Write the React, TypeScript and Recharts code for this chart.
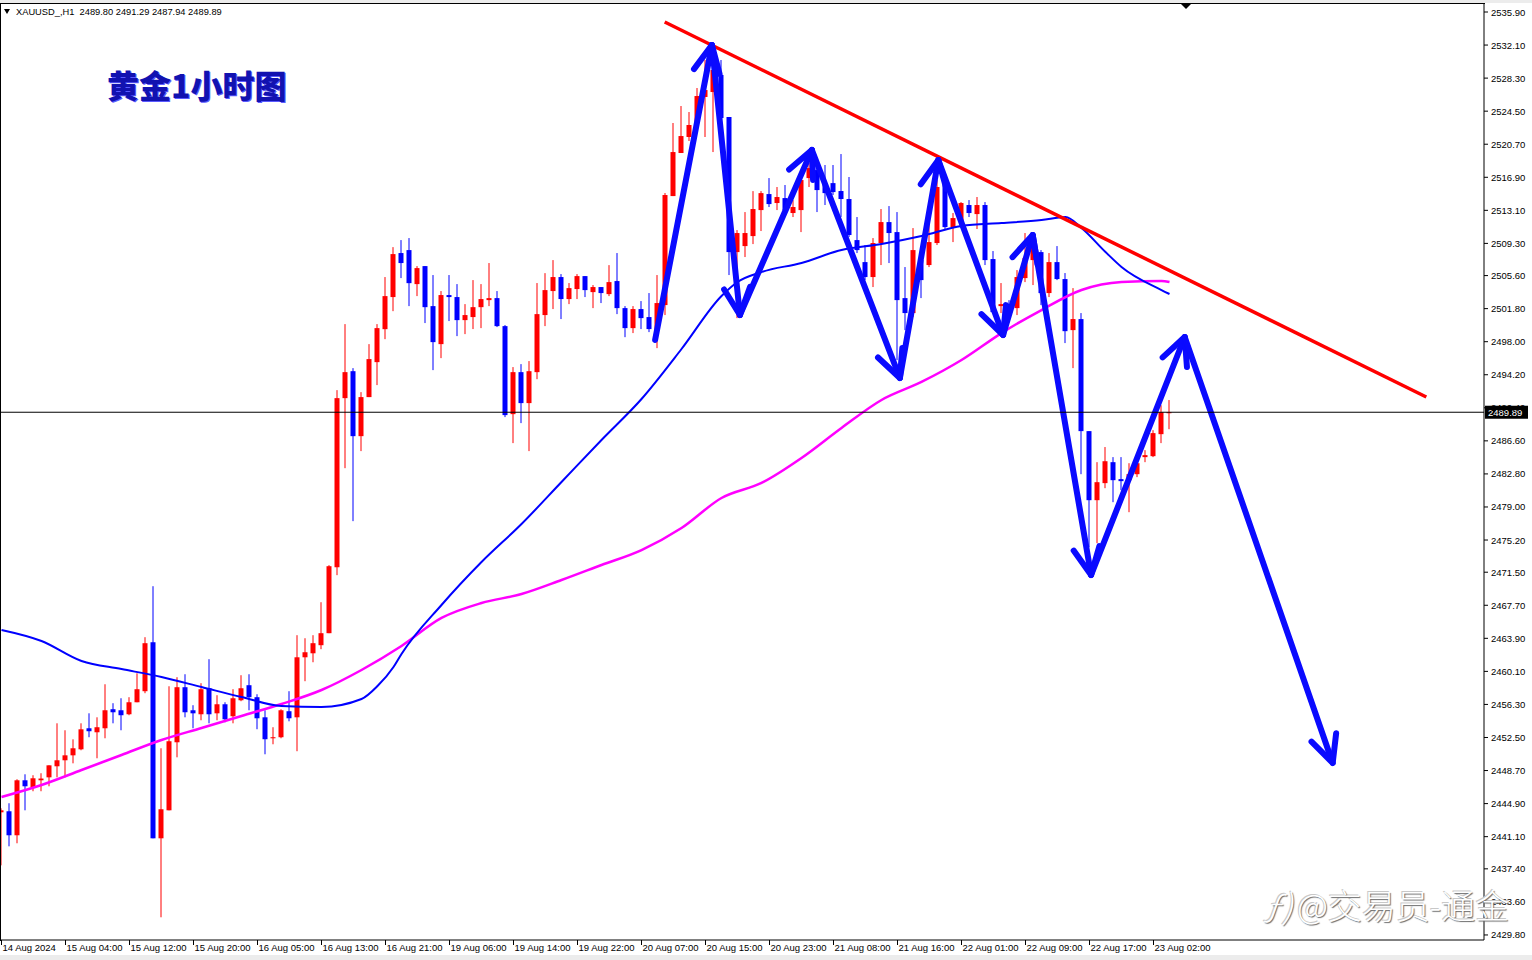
import React from 'react';
import { ComposedChart, Bar, Line, XAxis, YAxis, ReferenceLine } from 'recharts';

const opens = [2443.9,2444.02,2441.26,2447.58,2446.78,2447.58,2447.92,2449.19,2449.88,2450.45,2451.14,2453.56,2453.10,2453.56,2455.75,2455.63,2455.17,2456.55,2457.82,2463.45,2440.91,2444.13,2451.95,2458.28,2455.63,2455.17,2458.16,2455.28,2456.32,2454.94,2456.78,2458.51,2457.13,2454.82,2452.41,2452.53,2455.52,2454.82,2461.72,2462.18,2463.11,2464.49,2472.07,2491.51,2494.61,2487.14,2491.63,2495.65,2499.44,2503.13,2508.19,2508.53,2504.62,2506.69,2502.09,2497.72,2503.36,2503.13,2500.48,2500.83,2501.97,2502.78,2503.01,2499.79,2489.67,2494.50,2490.94,2494.50,2501.06,2503.82,2505.43,2502.90,2504.05,2505.54,2503.70,2504.28,2503.47,2504.97,2501.86,2499.56,2501.75,2500.83,2499.33,2502.21,2514.74,2519.69,2521.53,2523.14,2526.13,2526.70,2528.66,2523.83,2508.30,2508.99,2510.14,2513.13,2514.97,2513.94,2514.51,2512.79,2513.13,2516.81,2517.73,2516.23,2516.23,2515.32,2514.40,2509.68,2507.15,2505.43,2509.34,2511.75,2510.60,2503.01,2501.29,2507.38,2506.81,2509.34,2516.58,2511.17,2511.75,2513.71,2512.67,2513.71,2507.50,2502.09,2502.32,2501.86,2505.31,2507.38,2508.30,2503.59,2507.15,2505.20,2499.33,2500.60,2487.72,2479.78,2481.74,2484.15,2482.20,2482.08,2482.77,2484.73,2484.84,2487.37,2489.80];
const highs = [2444.36,2444.94,2447.70,2448.27,2448.16,2448.39,2449.30,2454.13,2453.33,2452.29,2454.13,2455.28,2454.82,2458.62,2456.44,2457.01,2457.13,2459.88,2464.03,2469.89,2451.26,2458.39,2459.43,2459.77,2456.21,2458.74,2461.50,2457.36,2456.55,2458.05,2459.66,2459.77,2457.47,2455.63,2453.68,2455.75,2457.82,2464.26,2463.91,2464.26,2468.05,2472.31,2492.43,2500.02,2494.96,2492.20,2497.72,2500.02,2505.43,2508.87,2509.68,2509.91,2506.69,2506.69,2505.66,2503.82,2505.66,2504.62,2502.32,2505.08,2504.62,2507.04,2503.82,2499.91,2495.08,2495.42,2495.77,2504.74,2505.88,2507.38,2505.77,2504.74,2505.77,2505.54,2504.51,2504.28,2506.80,2508.19,2502.09,2502.09,2502.67,2503.59,2505.66,2515.09,2523.14,2525.09,2524.40,2527.16,2530.38,2530.96,2530.38,2523.83,2510.83,2512.90,2515.31,2515.31,2516.81,2515.78,2516.01,2514.28,2517.16,2518.54,2518.54,2518.31,2518.31,2519.57,2516.93,2512.33,2509.11,2509.91,2513.25,2513.59,2512.90,2506.58,2511.06,2508.53,2511.63,2516.58,2516.81,2512.79,2514.05,2514.28,2514.63,2514.05,2508.42,2504.74,2502.78,2506.23,2510.49,2509.68,2508.53,2508.19,2508.99,2505.89,2504.16,2501.29,2487.72,2484.15,2485.89,2484.73,2484.73,2484.03,2485.19,2485.53,2487.83,2490.70,2491.29];
const lows = [2437.80,2439.99,2440.34,2444.13,2446.32,2446.32,2446.89,2447.92,2447.92,2449.53,2451.03,2452.53,2450.11,2452.41,2454.13,2453.33,2455.06,2456.55,2457.59,2440.91,2431.83,2444.13,2450.22,2454.82,2453.56,2454.48,2454.13,2454.48,2454.25,2454.13,2456.67,2455.63,2453.45,2450.57,2451.72,2452.41,2454.36,2450.92,2458.97,2461.15,2462.65,2464.49,2471.16,2483.46,2477.37,2485.42,2491.63,2493.01,2498.29,2501.51,2505.31,2502.09,2503.24,2500.14,2494.73,2496.11,2500.37,2498.64,2498.87,2499.45,2499.56,2502.09,2499.68,2489.33,2486.34,2488.64,2485.42,2493.69,2499.79,2501.75,2500.60,2502.32,2502.90,2503.13,2501.86,2502.44,2503.24,2501.17,2498.52,2498.99,2499.45,2499.10,2497.26,2501.06,2514.74,2519.69,2521.07,2522.68,2521.53,2519.80,2520.03,2505.66,2500.71,2507.73,2509.22,2510.72,2513.48,2513.13,2512.79,2512.33,2510.60,2515.78,2512.90,2513.71,2514.86,2512.33,2510.03,2508.19,2505.08,2504.28,2506.81,2507.04,2495.88,2499.33,2500.83,2503.01,2506.58,2509.11,2510.83,2509.45,2511.40,2512.33,2510.95,2506.81,2501.29,2501.29,2501.06,2501.06,2504.85,2504.51,2502.21,2503.13,2505.08,2497.84,2494.96,2482.77,2474.38,2474.84,2481.16,2479.55,2480.93,2478.40,2482.43,2484.15,2484.73,2486.34,2487.94];
const closes = [2444.13,2441.26,2447.58,2446.89,2447.81,2447.78,2449.30,2449.88,2450.45,2451.26,2453.44,2453.22,2453.68,2455.63,2455.40,2455.06,2456.55,2458.05,2463.34,2440.91,2444.25,2452.07,2458.28,2455.40,2455.28,2458.05,2455.17,2456.32,2454.59,2457.01,2458.16,2457.13,2454.71,2452.30,2452.53,2455.63,2454.71,2461.72,2462.30,2463.34,2464.49,2472.19,2491.51,2494.50,2487.14,2491.63,2496.00,2499.56,2503.24,2508.07,2507.04,2504.73,2506.46,2501.97,2497.95,2503.36,2503.13,2500.48,2501.06,2501.97,2502.90,2503.01,2499.79,2489.56,2494.50,2490.94,2494.61,2501.17,2503.93,2505.43,2502.90,2504.16,2505.54,2503.93,2504.28,2503.59,2504.85,2501.86,2499.56,2501.75,2500.71,2499.45,2502.44,2514.86,2519.80,2521.64,2522.91,2526.24,2526.93,2529.23,2523.71,2508.30,2510.49,2510.49,2513.25,2515.08,2513.82,2514.63,2513.13,2513.48,2516.58,2517.96,2515.43,2515.08,2515.20,2514.40,2510.26,2508.53,2505.43,2509.34,2511.75,2510.49,2502.78,2501.29,2508.53,2505.08,2509.45,2515.78,2511.17,2512.21,2513.94,2512.79,2513.71,2507.38,2501.40,2502.32,2501.63,2505.43,2507.61,2509.11,2503.59,2507.15,2505.20,2499.21,2500.60,2487.72,2479.78,2481.85,2484.26,2482.08,2481.97,2482.77,2484.03,2484.96,2487.49,2489.90,2489.89];

const xTickIdx = [0, 8, 16, 24, 32, 40, 48, 56, 64, 72, 80, 88, 96, 104, 112, 120, 128, 136, 144];
const xTickLabels = ['14 Aug 2024', '15 Aug 04:00', '15 Aug 12:00', '15 Aug 20:00', '16 Aug 05:00', '16 Aug 13:00', '16 Aug 21:00', '19 Aug 06:00', '19 Aug 14:00', '19 Aug 22:00', '20 Aug 07:00', '20 Aug 15:00', '20 Aug 23:00', '21 Aug 08:00', '21 Aug 16:00', '22 Aug 01:00', '22 Aug 09:00', '22 Aug 17:00', '23 Aug 02:00'];
const yTicks = [2535.9, 2532.1, 2528.3, 2524.5, 2520.7, 2516.9, 2513.1, 2509.3, 2505.6, 2501.8, 2498.0, 2494.2, 2490.4, 2486.6, 2482.8, 2479.0, 2475.2, 2471.5, 2467.7, 2463.9, 2460.1, 2456.3, 2452.5, 2448.7, 2444.9, 2441.1, 2437.4, 2433.6, 2429.8];

const maBlueIdx = [0, 5, 10, 15, 20, 25, 30, 35, 40, 45, 47, 49, 50, 55, 60, 65, 70, 75, 80, 85, 90, 92, 95, 100, 105, 110, 115, 120, 125, 130, 133, 135, 138, 140, 145, 146];
const maBlueVal = [2464.86, 2463.59, 2461.29, 2460.37, 2459.45, 2458.30, 2457.15, 2456.12, 2456.00, 2456.92, 2458.41, 2460.60, 2462.10, 2467.73, 2472.67, 2477.04, 2481.87, 2486.70, 2491.41, 2497.16, 2503.25, 2504.86, 2506.01, 2507.05, 2508.54, 2509.23, 2510.15, 2511.30, 2511.64, 2511.99, 2512.33, 2511.07, 2508.31, 2506.59, 2503.94, 2503.48];
const maMagIdx = [0, 5, 10, 15, 20, 25, 30, 35, 40, 45, 50, 55, 60, 65, 70, 75, 80, 85, 90, 95, 100, 105, 110, 115, 120, 125, 130, 135, 140, 145, 146];
const maMagVal = [2445.66, 2447.04, 2448.76, 2450.49, 2452.21, 2453.59, 2454.97, 2456.35, 2457.96, 2460.26, 2463.02, 2466.24, 2467.96, 2468.99, 2470.60, 2472.33, 2474.05, 2476.58, 2480.03, 2481.76, 2484.63, 2488.08, 2491.30, 2493.37, 2495.89, 2498.99, 2501.64, 2503.94, 2504.86, 2504.98, 2504.86];

const zigIdx = [81.7, 88.8, 92.3, 101.3, 112.3, 117.1, 125.2, 128.9, 136.2, 147.9, 166.4];
const zigPrice = [2498.19, 2532.1, 2501.07, 2520.04, 2493.83, 2518.89, 2498.77, 2510.27, 2471.18, 2498.54, 2449.57];
const trendIdx = [82.9, 178.1];
const trendPrice = [2534.75, 2491.64];
const lastPrice = 2489.89;

const data = opens.map((o, i) => {
  const bi = maBlueIdx.indexOf(i);
  const mi = maMagIdx.indexOf(i);
  return {
    i,
    o,
    h: highs[i],
    l: lows[i],
    c: closes[i],
    range: [lows[i], highs[i]],
    maBlue: bi >= 0 ? maBlueVal[bi] : null,
    maMag: mi >= 0 ? maMagVal[mi] : null,
  };
});

const FONT = '"Liberation Sans", Arial, sans-serif';

const Candle = (props: any) => {
  const { x, width, payload } = props;
  let { y, height } = props;
  if (!payload || y == null) return null;
  if (height < 0) { y = y + height; height = -height; }
  const { o, h, l, c } = payload;
  const span = h - l;
  const k = span > 0 ? height / span : 0;
  const py = (p: number) => y + (h - p) * k;
  const cx = x + width / 2;
  const up = c >= o;
  const color = up ? '#ff0000' : '#0000ff';
  const top = py(Math.max(o, c));
  const bot = py(Math.min(o, c));
  return (
    <g>
      <line x1={cx} x2={cx} y1={y} y2={y + height} stroke={color} strokeWidth={1} />
      <rect x={cx - 2.5} y={top} width={5} height={Math.max(1, bot - top)} fill={color} />
    </g>
  );
};

const Arrow = (p: any) => {
  const { x1, y1, x2, y2 } = p;
  if ([x1, y1, x2, y2].some((v) => v == null || isNaN(v))) return null;
  const ang = Math.atan2(y2 - y1, x2 - x1);
  const L = 30;
  const a = 0.45;
  const b1x = x2 - L * Math.cos(ang - a);
  const b1y = y2 - L * Math.sin(ang - a);
  const b2x = x2 - L * Math.cos(ang + a);
  const b2y = y2 - L * Math.sin(ang + a);
  return (
    <g stroke="#0a0aff" strokeWidth={6} strokeLinecap="round" strokeLinejoin="round" fill="none">
      <line x1={x1} y1={y1} x2={x2} y2={y2} />
      <polyline points={`${b1x},${b1y} ${x2},${y2} ${b2x},${b2y}`} />
    </g>
  );
};

const XTick = (props: any) => {
  const { x, y, payload } = props;
  const idx = xTickIdx.indexOf(payload.value);
  return (
    <g>
      <line x1={x} x2={x} y1={y} y2={y + 5} stroke="#000" strokeWidth={1} />
      <text x={x + 1} y={y + 11} fontSize={9.5} fontFamily={FONT} fill="#000" textAnchor="start">
        {idx >= 0 ? xTickLabels[idx] : ''}
      </text>
    </g>
  );
};

const YTick = (props: any) => {
  const { x, y, payload } = props;
  return (
    <g>
      <line x1={x} x2={x + 4} y1={y} y2={y} stroke="#000" strokeWidth={1} />
      <text x={x + 7} y={y + 3.5} fontSize={9.5} fontFamily={FONT} fill="#000" textAnchor="start">
        {Number(payload.value).toFixed(2)}
      </text>
    </g>
  );
};

const PriceLabel = (p: any) => {
  const vb = p.viewBox || {};
  const right = (vb.x || 0) + (vb.width || 0);
  const yy = vb.y || 0;
  return (
    <g>
      <rect x={right + 1} y={yy - 6.5} width={43} height={13} fill="#000" />
      <text x={right + 4} y={yy + 3.5} fontSize={9.5} fontFamily={FONT} fill="#fff">
        {lastPrice.toFixed(2)}
      </text>
    </g>
  );
};

export default function App() {
  const zigSegs = zigIdx.slice(1).map((xi, k) => [
    { x: zigIdx[k], y: zigPrice[k] },
    { x: xi, y: zigPrice[k + 1] },
  ]);
  return (
    <div style={{ position: 'absolute', left: 0, top: 0, width: 1532, height: 960, background: '#fff', overflow: 'hidden' }}>
      <div style={{ position: 'absolute', left: 0, top: 0, width: 1532, height: 3, background: '#ececec' }} />
      <div style={{ position: 'absolute', left: 0, top: 955, width: 1532, height: 5, background: '#ececec' }} />
      <div style={{ position: 'absolute', left: 0, top: 3 }}>
        <ComposedChart width={1532} height={957} data={data} margin={{ top: 1, right: 0, bottom: 0, left: 0 }}>
          <XAxis
            dataKey="i"
            type="number"
            domain={[-0.1875, 185.3125]}
            allowDataOverflow
            ticks={xTickIdx}
            interval={0}
            tick={<XTick />}
            tickLine={false}
            tickSize={0}
            tickMargin={0}
            axisLine={{ stroke: '#000', strokeWidth: 1 }}
            height={20}
          />
          <YAxis
            yAxisId={0}
            orientation="right"
            type="number"
            domain={[2429.22, 2536.82]}
            allowDataOverflow
            ticks={yTicks}
            interval={0}
            tick={<YTick />}
            tickLine={false}
            tickSize={0}
            tickMargin={0}
            axisLine={{ stroke: '#000', strokeWidth: 1 }}
            width={48}
          />
          <Bar dataKey="range" barSize={5} shape={<Candle />} isAnimationActive={false} />
          <Line dataKey="maMag" type="monotone" stroke="#ff00ff" strokeWidth={2.5} dot={false} connectNulls isAnimationActive={false} />
          <Line dataKey="maBlue" type="monotone" stroke="#0000ff" strokeWidth={2} dot={false} connectNulls isAnimationActive={false} />
          <ReferenceLine
            segment={[{ x: trendIdx[0], y: trendPrice[0] }, { x: trendIdx[1], y: trendPrice[1] }]}
            stroke="#ff0000"
            strokeWidth={3.5}
            ifOverflow="visible"
          />
          {zigSegs.map((seg, k) => (
            <ReferenceLine key={k} segment={seg} ifOverflow="visible" shape={Arrow} />
          ))}
          <ReferenceLine y={lastPrice} stroke="#000" strokeWidth={1} ifOverflow="visible" label={PriceLabel} />
        </ComposedChart>
      </div>
      <div style={{ position: 'absolute', left: 0, top: 3, width: 1485, height: 1, background: '#000' }} />
      <div style={{ position: 'absolute', left: 0, top: 3, width: 1, height: 938, background: '#000' }} />
      <div style={{ position: 'absolute', left: 1181, top: 4, width: 0, height: 0, borderLeft: '5px solid transparent', borderRight: '5px solid transparent', borderTop: '5px solid #000' }} />
      <div style={{ position: 'absolute', left: 4, top: 9, width: 0, height: 0, borderLeft: '3.5px solid transparent', borderRight: '3.5px solid transparent', borderTop: '5px solid #000' }} />
      <div style={{ position: 'absolute', left: 16, top: 6, fontFamily: FONT, fontSize: 9.3, color: '#000', whiteSpace: 'pre', lineHeight: '12px' }}>
        {'XAUUSD_,H1  2489.80 2491.29 2487.94 2489.89'}
      </div>
      <div style={{ position: 'absolute', left: 107, top: 65, fontFamily: '"Noto Sans CJK SC", sans-serif', fontSize: 32, fontWeight: 900, color: '#1212b0', lineHeight: '38px', textShadow: '1px 1px 0 #5a5aff', whiteSpace: 'nowrap' }}>
        黄金1小时图
      </div>
      <div style={{ position: 'absolute', left: 1264, top: 884, fontFamily: '"Noto Sans CJK SC", sans-serif', fontSize: 34, fontWeight: 300, color: '#ffffff', lineHeight: '42px', textShadow: '1px 1px 1px #6a6a6a, -1px -1px 0 #c8c8c8', whiteSpace: 'nowrap' }}>
        <span style={{ fontStyle: 'italic', marginRight: 4 }}>ƒ)</span>@交易员-通金
      </div>
    </div>
  );
}
